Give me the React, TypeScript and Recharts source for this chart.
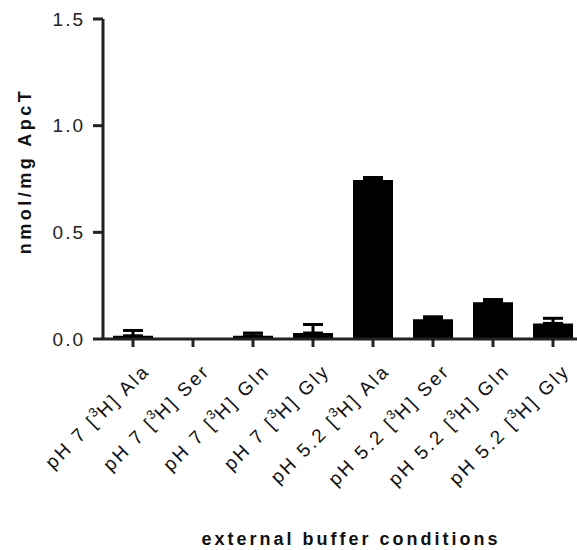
import { BarChart, Bar, XAxis, YAxis, ErrorBar, Label } from "recharts"

const categories = [
  "pH 7 [3H] Ala",
  "pH 7 [3H] Ser",
  "pH 7 [3H] Gln",
  "pH 7 [3H] Gly",
  "pH 5.2 [3H] Ala",
  "pH 5.2 [3H] Ser",
  "pH 5.2 [3H] Gln",
  "pH 5.2 [3H] Gly",
]
const means = [0.015, 0, 0.015, 0.028, 0.745, 0.092, 0.172, 0.073]
const errors = [0.025, 0, 0.013, 0.04, 0.012, 0.012, 0.013, 0.024]
const yTicks = [0, 0.5, 1.0, 1.5]

const font = "'Liberation Sans', Arial, sans-serif"
const axisColor = "#222"

const data = categories.map((name, i) => ({
  name,
  value: means[i],
  err: [0, errors[i]],
}))

function CategoryTick({ x, y, payload }: any) {
  const [before, after] = String(payload.value).split("[3H]")
  return (
    <g transform={`translate(${x + 18},${y + 23})`}>
      <text
        transform="rotate(-45)"
        textAnchor="end"
        fontSize={19}
        letterSpacing={2.5}
        fill="#111"
        fontFamily={font}
      >
        <tspan>{before}[</tspan>
        <tspan dy={-8} fontSize={13} letterSpacing={0}>3</tspan>
        <tspan dy={8}>H]{after}</tspan>
      </text>
    </g>
  )
}

export default function App() {
  return (
    <div style={{ position: "absolute", left: 0, top: 0, width: 577, height: 550, overflow: "hidden", background: "#fff" }}>
      <BarChart
        width={600}
        height={550}
        data={data}
        margin={{ top: 19, right: 17, bottom: 0, left: 0 }}
        barSize={40}
      >
        <XAxis
          dataKey="name"
          height={211}
          interval={0}
          tickSize={8}
          tick={<CategoryTick />}
          axisLine={{ stroke: axisColor, strokeWidth: 3 }}
          tickLine={{ stroke: axisColor, strokeWidth: 3 }}
        >
          <Label
            content={() => (
              <text
                x={351}
                y={545}
                textAnchor="middle"
                fontSize={18}
                fontWeight="bold"
                letterSpacing={3}
                fill="#111"
                fontFamily={font}
              >
                external buffer conditions
              </text>
            )}
          />
        </XAxis>
        <YAxis
          width={103}
          domain={[0, 1.5]}
          ticks={yTicks}
          interval={0}
          tickSize={10}
          tickMargin={8}
          tickFormatter={(v: number) => v.toFixed(1)}
          tick={{ fontSize: 19, fill: "#222", fontFamily: font, letterSpacing: 2 }}
          axisLine={{ stroke: axisColor, strokeWidth: 3 }}
          tickLine={{ stroke: axisColor, strokeWidth: 3 }}
        >
          <Label
            content={() => (
              <text
                x={31}
                y={171}
                transform="rotate(-90 31 171)"
                textAnchor="middle"
                fontSize={18}
                fontWeight="bold"
                letterSpacing={3.5}
                fill="#111"
                fontFamily={font}
              >
                nmol/mg ApcT
              </text>
            )}
          />
        </YAxis>
        <Bar dataKey="value" fill="#000" isAnimationActive={false}>
          <ErrorBar dataKey="err" width={10} stroke="#000" strokeWidth={3} isAnimationActive={false} />
        </Bar>
      </BarChart>
    </div>
  )
}
